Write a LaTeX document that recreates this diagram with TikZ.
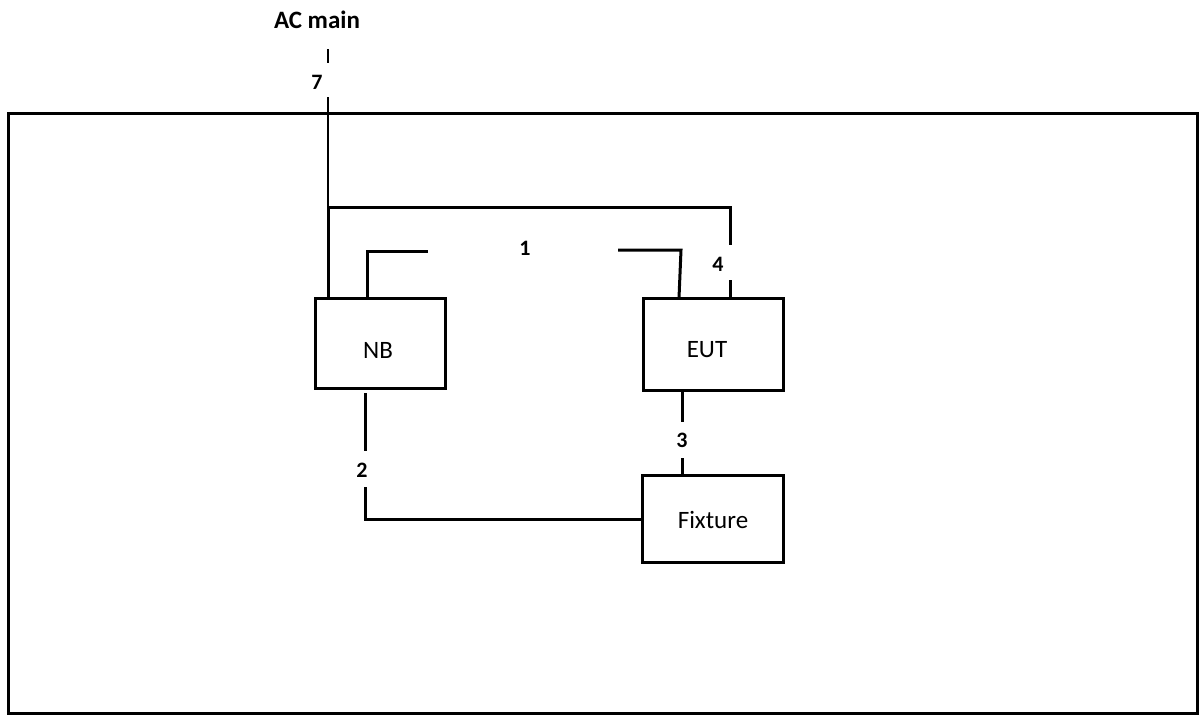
\documentclass[tikz,border=0pt]{standalone}
\usepackage{fontspec}
\setmainfont{Carlito}
\usepackage{tikz}
\usetikzlibrary{calc}
\tikzset{
  box/.style={draw, line width=3pt, minimum width=#1, inner sep=0pt, outer sep=0pt},
  wire/.style={line width=3pt},
  thinwire/.style={line width=1.5pt},
  num/.style={font=\fontsize{22pt}{24pt}\selectfont\bfseries, inner sep=0pt},
  boxlabel/.style={font=\fontsize{25pt}{28pt}\selectfont, inner sep=0pt}
}
\begin{document}
\begin{tikzpicture}[x=1pt, y=-1pt]
      \useasboundingbox (0,0) rectangle (1200,716);
      \draw[line width=3pt] (8.5,113.5) rectangle (1197,713.5);
      \node[num, font=\fontsize{25pt}{27pt}\selectfont\bfseries] (acmain) at (317,20) {AC main};
      \node[box=130pt, minimum height=90pt] (nb) at (380,343) {};
      \node[box=140pt, minimum height=92pt] (eut) at (713,344) {};
      \node[box=141pt, minimum height=87pt] (fixture) at (713,519) {};
      \node[boxlabel] (nbtext) at (378,350) {NB};
      \node[boxlabel] (euttext) at (707,350) {EUT};
      \node[boxlabel] (fixturetext) at (713,520) {Fixture};
      \node[num] (n7) at (317,82) {7};
      \node[num] (n1) at (525,248) {1};
      \node[num] (n4) at (718,264) {4};
      \node[num] (n2) at (362,470) {2};
      \node[num] (n3) at (682,440) {3};
      \coordinate (acin)  at (328,49);
      \coordinate (acmid) at (328,63);
      \coordinate (acout) at (328,97);
      \coordinate (top4)  at (328,207);
      \coordinate (gap4a) at (730,245);
      \coordinate (gap4b) at (730,280);
      \coordinate (gap1a) at (428,251);
      \coordinate (gap1b) at (618,250);
      \coordinate (bend1) at (681,250);
      \coordinate (gap2a) at (365,393);
      \coordinate (gap2b) at (365,451);
      \coordinate (gap2c) at (365,487);
      \coordinate (gap3a) at (682,422);
      \coordinate (gap3b) at (682,458);
      \draw[thinwire] (acin) -- (acmid);
      \draw[thinwire] (acout) -- (top4);
      \draw[wire] (top4 |- nb.north) -- (top4) -- (top4 -| gap4a) -- (gap4a);
      \draw[wire] (gap4b) -- (gap4b |- eut.north);
      \draw[wire] ($(nb.north west)+(52,0)$) |- (gap1a);
      \draw[wire] (gap1b) -- (bend1) -- ($(eut.north west)+(36,0)$);
      \draw[wire] (gap2a) -- (gap2b);
      \draw[wire] (gap2c) |- (fixture.west);
      \draw[wire] (eut.south -| gap3a) -- (gap3a);
      \draw[wire] (gap3b) -- (gap3b |- fixture.north);
    \end{tikzpicture}
\end{document}
